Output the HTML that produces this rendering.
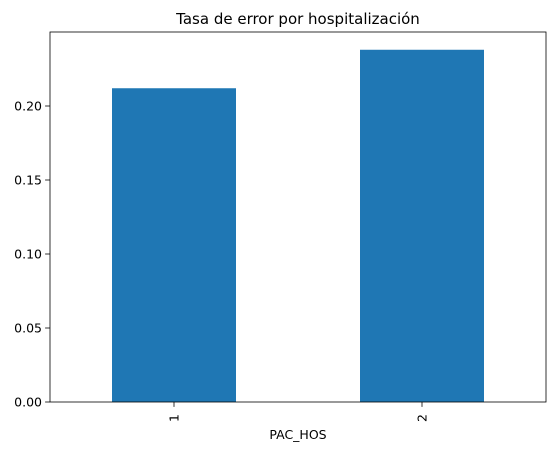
<!DOCTYPE html>
<html><head><meta charset="utf-8"><style>body{margin:0;background:#fff}svg{display:block;font-family:"DejaVu Sans","Liberation Sans",sans-serif}</style></head>
<body>
<svg id="c" width="556" height="450"></svg>
<script>
const categories=["1","2"];
const values=[0.212,0.238];
const yTicks=[0,0.05,0.10,0.15,0.20];
const yTickLabels=["0.00","0.05","0.10","0.15","0.20"];
const L=50,R=546,T=32,B=402,yMax=0.25;
const ns="http://www.w3.org/2000/svg",svg=document.getElementById('c');
const y=v=>B-(v/yMax)*(B-T);
const step=(R-L)/categories.length;
const x=i=>L+step*(i+0.5);
function mk(t,a,txt){const e=document.createElementNS(ns,t);for(const k in a)e.setAttribute(k,a[k]);if(txt!==undefined)e.textContent=txt;svg.appendChild(e);return e;}
categories.forEach((c,i)=>{
 const r=mk('rect',{x:x(i)-step/4,y:y(values[i]),width:step/2,height:B-y(values[i]),fill:'#1f77b4'});
 
 
 const tk=mk('line',{x1:x(i),x2:x(i),y1:B,y2:B+4.9,stroke:'#000','stroke-width':0.8});
 
 
 const tl=mk('text',{x:0,y:0,'font-size':12.5,'text-anchor':'middle',transform:`translate(${x(i)+4.5},${B+16}) rotate(-90)`},c);
 
 
});
yTicks.forEach((v,i)=>{
 const tk=mk('line',{x1:L-4.9,x2:L,y1:y(v),y2:y(v),stroke:'#000','stroke-width':0.8});
 
 
 const tl=mk('text',{x:L-8,y:y(v)+4.5,'font-size':12.5,'text-anchor':'end'},yTickLabels[i]);
 
 
});
const fr=mk('rect',{x:L,y:T,width:R-L,height:B-T,fill:'none',stroke:'#000','stroke-width':0.8});


const xt=mk('text',{x:(L+R)/2,y:439,'font-size':12.5,'text-anchor':'middle'},'PAC_HOS');


const tt=mk('text',{x:(L+R)/2,y:24,'font-size':15,'text-anchor':'middle'},'Tasa de error por hospitalización');


</script>
</body></html>
